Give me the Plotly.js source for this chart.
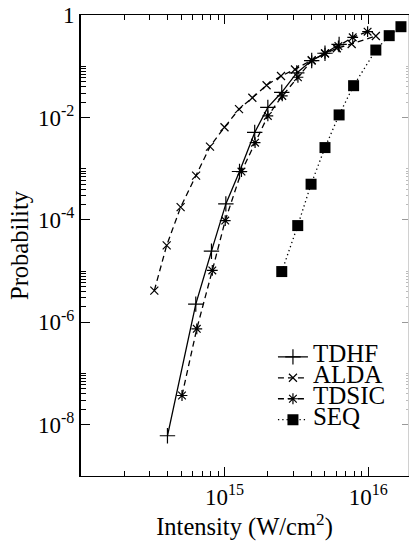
<!DOCTYPE html>
<html>
<head>
<meta charset="utf-8">
<script src="https://cdn.plot.ly/plotly-3.0.1.min.js"></script>
<style>
  html, body { margin: 0; padding: 0; background: #fff; }
  #plot { width: 409px; height: 545px; }
</style>
</head>
<body>
<div id="plot"></div>
<script>
// Ionization probability versus laser intensity (W/cm^2)
const tdhfIntensity = [4.0e14, 6.3e14, 8.1e14, 1.02e15, 1.27e15, 1.62e15, 2.0e15, 2.5e15, 3.18e15, 4.04e15, 5.0e15, 6.27e15];
const tdhfProb      = [6.1e-9, 2.27e-6, 2.45e-5, 2.05e-4, 8.8e-4, 5.1e-3, 1.57e-2, 3.1e-2, 7.4e-2, 0.129, 0.179, 0.266];

const aldaIntensity = [3.24e14, 3.95e14, 4.94e14, 6.33e14, 7.91e14, 9.98e14, 1.26e15, 1.56e15, 1.96e15, 2.47e15, 3.09e15, 4.04e15, 5.0e15, 6.04e15, 7.67e15, 1.13e16];
const aldaProb      = [4.17e-6, 3.18e-5, 1.77e-4, 7.31e-4, 2.69e-3, 6.44e-3, 1.45e-2, 2.42e-2, 4.25e-2, 6.45e-2, 8.64e-2, 0.132, 0.177, 0.224, 0.272, 0.389];

const tdsicIntensity = [5.05e14, 6.4e14, 8.21e14, 1.01e15, 1.31e15, 1.63e15, 2.0e15, 2.52e15, 3.24e15, 4.04e15, 5.0e15, 6.2e15, 7.8e15, 9.9e15];
const tdsicProb      = [3.73e-8, 7.47e-7, 1.03e-5, 9.7e-5, 8.76e-4, 3.22e-3, 1.07e-2, 2.63e-2, 6.09e-2, 0.128, 0.179, 0.248, 0.367, 0.472];

const seqIntensity = [2.5e15, 3.23e15, 4.0e15, 5.0e15, 6.27e15, 7.91e15, 1.13e16, 1.40e16, 1.69e16];
const seqProb      = [9.8e-6, 7.74e-5, 4.97e-4, 2.58e-3, 1.12e-2, 4.17e-2, 0.207, 0.395, 0.591];

const seriesNames = ['TDHF', 'ALDA', 'TDSIC', 'SEQ'];

const xTickVals = [1e15, 1e16];
const xTickText = ['10<sup>15</sup>', '10<sup>16</sup>'];
const yTickVals = [1, 1e-2, 1e-4, 1e-6, 1e-8];
const yTickText = ['1', '10<sup>-2</sup>', '10<sup>-4</sup>', '10<sup>-6</sup>', '10<sup>-8</sup>'];

// minor ticks: 2..9 within each decade on x; only the odd decades on y
const xMinor = [];
[1e14, 1e15].forEach(d => { for (let k = 2; k <= 9; k++) xMinor.push(k * d); });
const yMinor = [];
[1e-2, 1e-4, 1e-6, 1e-8].forEach(d => { for (let k = 2; k <= 10; k++) yMinor.push(k * d); });

const serif = '"Liberation Serif", "Times New Roman", Times, serif';
// legend rows stay tightly packed (spacing follows legend.font.size) while labels are drawn larger
const legendLabel = s => '<span style="font-size:25px">' + s + '</span>';

const traces = [
  {
    x: tdhfIntensity, y: tdhfProb, name: legendLabel(seriesNames[0]),
    mode: 'lines+markers',
    line: { color: '#000', width: 1.3 },
    marker: { symbol: 'cross-thin-open', size: 11, color: '#000', line: { color: '#000', width: 1.2 } }
  },
  {
    x: aldaIntensity, y: aldaProb, name: legendLabel(seriesNames[1]),
    mode: 'lines+markers',
    line: { color: '#000', width: 1.3, dash: '6px,4px' },
    marker: { symbol: 'x-thin-open', size: 8, color: '#000', line: { color: '#000', width: 1.2 } }
  },
  {
    x: tdsicIntensity, y: tdsicProb, name: legendLabel(seriesNames[2]),
    mode: 'lines+markers',
    line: { color: '#000', width: 1.3, dash: '6px,4px' },
    marker: { symbol: 'asterisk-open', size: 9, color: '#000', line: { color: '#000', width: 1.2 } }
  },
  {
    x: seqIntensity, y: seqProb, name: legendLabel(seriesNames[3]),
    mode: 'lines+markers',
    line: { color: '#000', width: 1.3, dash: '1.3px,3px' },
    marker: { symbol: 'square', size: 11, color: '#000' }
  },
  // faint right-hand frame axis
  {
    x: [1e15], y: [1], yaxis: 'y2', mode: 'markers', showlegend: false,
    hoverinfo: 'skip', marker: { opacity: 0 }
  }
];

const layout = {
  width: 409, height: 545,
  margin: { l: 81, r: 1, t: 15, b: 69 },
  paper_bgcolor: '#fff', plot_bgcolor: '#fff',
  font: { family: serif, color: '#000', size: 23 },
  showlegend: true,
  legend: {
    x: 0.587, y: 0.292, xanchor: 'left', yanchor: 'top',
    bgcolor: 'rgba(0,0,0,0)', borderwidth: 0,
    font: { family: serif, size: 13.8, color: '#000' },
    tracegroupgap: 0
  },
  xaxis: {
    type: 'log', range: [14, 16.277],
    showgrid: false, zeroline: false,
    showline: true, linecolor: '#000', linewidth: 1, mirror: 'ticks',
    ticks: 'inside', ticklen: 9, tickwidth: 1, tickcolor: '#000',
    tickmode: 'array', tickvals: xTickVals, ticktext: xTickText,
    tickfont: { family: serif, size: 23, color: '#000' },
    minor: { tickmode: 'array', tickvals: xMinor, ticks: 'inside', ticklen: 5, tickwidth: 1, tickcolor: '#000', showgrid: false },
    title: { text: 'Intensity (W/cm<sup>2</sup>)', font: { family: serif, size: 24.5, color: '#000' }, standoff: 8 }
  },
  yaxis: {
    type: 'log', range: [-9, 0],
    showgrid: false, zeroline: false,
    showline: true, linecolor: '#000', linewidth: 2, mirror: false,
    ticks: 'inside', ticklen: 9, tickwidth: 1, tickcolor: '#000',
    tickmode: 'array', tickvals: yTickVals, ticktext: yTickText,
    tickfont: { family: serif, size: 23, color: '#000' },
    minor: { tickmode: 'array', tickvals: yMinor, ticks: 'inside', ticklen: 5, tickwidth: 1, tickcolor: '#000', showgrid: false },
    title: { text: 'Probability', font: { family: serif, size: 24.5, color: '#000' }, standoff: 2 }
  },
  yaxis2: {
    type: 'log', range: [-9, 0], overlaying: 'y', side: 'right',
    showgrid: false, zeroline: false,
    showline: true, linecolor: '#d0d0d0', linewidth: 1,
    ticks: 'inside', ticklen: 6, tickwidth: 1, tickcolor: '#999',
    tickmode: 'array', tickvals: yTickVals, showticklabels: false,
    minor: { tickmode: 'array', tickvals: yMinor, ticks: 'inside', ticklen: 2, tickwidth: 1, tickcolor: '#bbb', showgrid: false }
  }
};

Plotly.newPlot('plot', traces, layout, { staticPlot: true, displayModeBar: false });
</script>
</body>
</html>
